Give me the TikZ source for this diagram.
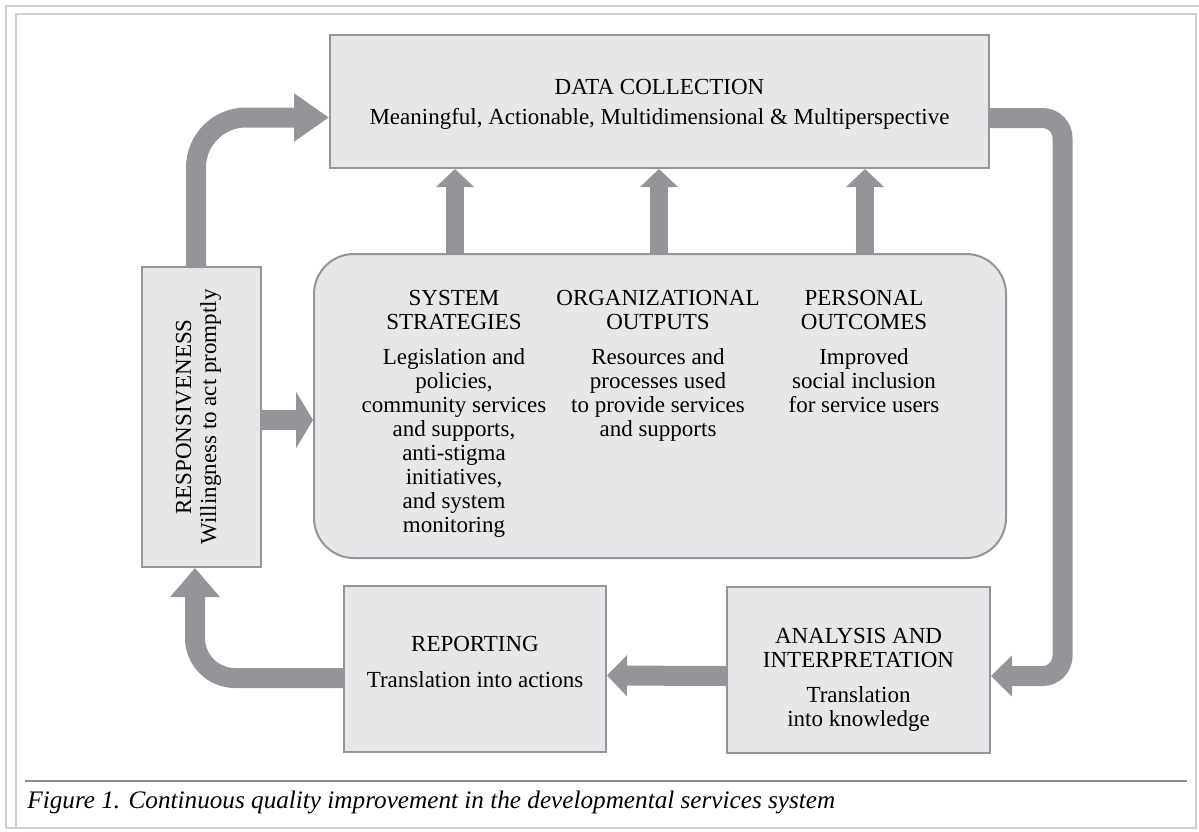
\documentclass[tikz,border=0pt]{standalone}
\usepackage{fontspec}
\setmainfont{Liberation Serif}
\usetikzlibrary{arrows.meta,positioning}
\definecolor{boxfill}{HTML}{E6E7E8}
\definecolor{boxline}{HTML}{939598}
\definecolor{framegray}{HTML}{CFCFCF}
\definecolor{rulegray}{HTML}{8C8C8C}
\begin{document}
\begin{tikzpicture}[x=0.5pt, y=-0.5pt,
    stage/.style={draw=boxline, line width=1pt, fill=boxfill, align=center, inner sep=0pt,
        font=\fontsize{11.5}{12}\selectfont},
    column/.style={align=center, anchor=north, inner sep=0pt, font=\fontsize{11.5}{12}\selectfont},
    flow/.style={draw=boxline, line width=10pt}]
    \useasboundingbox (0,0) rectangle (1199,831);

    % frame and caption
    \draw[framegray, line width=1pt] (6,828) -- (6,6) -- (1199,6);
    \draw[framegray, line width=1pt] (6,828) -- (1196,828) -- (1196,14) -- (16,14) -- (16,828);
    \draw[rulegray, line width=0.6pt] (25,781) -- (1187,781);
    \node[anchor=base west, inner sep=0pt, font=\itshape\fontsize{12.6}{14}\selectfont] (caption) at (27,808)
        {Figure 1. Continuous quality improvement in the developmental services system};

    % boxes
    \node[stage, minimum width=329.5pt, minimum height=66.5pt] (data) at (659.5,101.5)
        {\rule{0pt}{10.5pt}DATA COLLECTION\\[3pt]Meaningful, Actionable, Multidimensional \& Multiperspective};
    \node[stage, minimum width=59.5pt, minimum height=150pt] (resp) at (201.5,417) {};
    \node[rotate=90, align=center, inner sep=0pt, font=\fontsize{11.5}{12}\selectfont] (resplabel) at ([xshift=-1.5pt]resp)
        {RESPONSIVENESS\\[0.5pt]Willingness to act promptly};
    \node[stage, rounded corners=20pt, minimum width=346pt, minimum height=152pt] (cols) at (660,406) {};
    \node[stage, minimum width=131pt, minimum height=83pt] (rep) at (475,669)
        {REPORTING\\[6pt]Translation into actions\\[-5pt]\mbox{}};
    \node[stage, minimum width=131.5pt, minimum height=83pt] (ana) at (858.5,669.5)
        {\rule{0pt}{18pt}ANALYSIS AND\\INTERPRETATION\\[5.5pt]Translation\\into knowledge};

    % columns inside the rounded box
    \node[column] (strat) at (454,290)
        {SYSTEM\\STRATEGIES\\[5.5pt]Legislation and\\policies,\\community services\\and supports,\\anti-stigma\\initiatives,\\and system\\monitoring};
    \node[column] (outputs) at (658,290)
        {ORGANIZATIONAL\\OUTPUTS\\[5.5pt]Resources and\\processes used\\to provide services\\and supports};
    \node[column] (outcomes) at (864,290)
        {PERSONAL\\OUTCOMES\\[5.5pt]Improved\\social inclusion\\for service users};

    % arrows
    \draw[flow, rounded corners=25pt, -{Triangle[length=17.5pt,width=23pt]}]
        ([xshift=-2.75pt]resp.north) |- ([yshift=-8pt]data.west);
    \draw[flow, -{Triangle[length=8.5pt,width=28pt]}]
        ([yshift=-1.5pt]resp.east) -- ([yshift=-1.5pt]resp.east -| cols.west);
    \foreach \c in {strat,outputs,outcomes}
        \draw[flow, line width=9pt, -{Triangle[length=9pt,width=18.5pt]}]
            ([xshift=0.5pt]\c |- cols.north) -- ([xshift=0.5pt]\c |- data.south);
    \coordinate (rturn) at (1062.5,400);
    \draw[flow, rounded corners=10pt, -{Triangle[length=10.5pt,width=20pt]}]
        ([yshift=-8.25pt]data.east) -| (rturn) |- ([yshift=-3.25pt]ana.east);
    \draw[flow, -{Triangle[length=10pt,width=20pt]}]
        ([yshift=-3.25pt]ana.west) -- ([yshift=-3.25pt]rep.east);
    \draw[flow, rounded corners=20pt, -{Triangle[length=14.5pt,width=24pt]}]
        ([yshift=-4.5pt]rep.west) -| ([xshift=-3.25pt]resp.south);
\end{tikzpicture}
\end{document}
